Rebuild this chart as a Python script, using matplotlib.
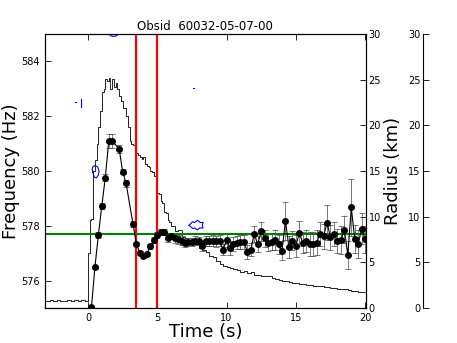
import matplotlib

matplotlib.use("Agg")
import matplotlib.pyplot as plt
import numpy as np

# light curve (scaled into frequency units), step start times and levels
lc_time = [-3.25, -3.0, -2.75, -2.5, -2.25, -2.0, -1.75, -1.5, -1.25, -1.0, -0.75, -0.5, -0.25,
           0.0, 0.125, 0.25, 0.375, 0.5, 0.625, 0.75, 0.875, 1.0, 1.125, 1.25, 1.375, 1.5,
           1.625, 1.75, 1.875, 2.0, 2.125, 2.25, 2.375, 2.5, 2.625, 2.75, 2.875, 3.0, 3.125,
           3.25, 3.375, 3.5, 3.625, 3.75, 3.875, 4.0, 4.125, 4.25, 4.375, 4.5, 4.625, 4.75,
           4.875, 5.0, 5.125, 5.25, 5.375, 5.5, 5.625, 5.75, 5.875, 6.0, 6.125, 6.25, 6.5,
           6.75, 7.0, 7.25, 7.5, 7.75, 8.0, 8.25, 8.5, 8.75, 9.0, 9.25, 9.5, 9.75, 10.0,
           10.25, 10.5, 10.75, 11.0, 11.25, 11.5, 11.75, 12.0, 12.25, 12.5, 12.75, 13.0,
           13.25, 13.5, 13.75, 14.0, 14.25, 14.5, 14.75, 15.0, 15.25, 15.5, 15.75, 16.0,
           16.25, 16.5, 16.75, 17.0, 17.25, 17.5, 17.75, 18.0, 18.25, 18.5, 18.75, 19.0,
           19.25, 19.5, 19.75, 20.0]
lc_level = [575.27, 575.25, 575.28, 575.26, 575.30, 575.27, 575.24, 575.29, 575.27, 575.31,
            575.26, 575.28, 575.27,
            577.0, 578.2, 578.25, 580.0, 580.4, 581.0, 581.6, 582.2, 582.9, 583.0, 583.35,
            583.3, 583.4, 583.0, 583.35, 583.05, 583.2, 583.0, 582.75, 582.55, 582.3, 582.3,
            582.0, 581.6, 581.1, 581.0, 580.95, 580.95, 580.65, 580.6, 580.5, 580.45, 580.5,
            580.25, 580.2, 580.15, 580.0, 579.95, 579.8, 579.7, 579.2, 579.15, 578.9, 578.85,
            578.5, 578.45, 578.2, 578.15, 578.0, 578.0, 577.8, 577.85, 577.6, 577.55, 577.45,
            577.4, 577.35, 577.2, 577.1, 577.05, 576.9, 576.85, 576.7, 576.6, 576.55, 576.5,
            576.45, 576.42, 576.38, 576.33, 576.35, 576.28, 576.3, 576.22, 576.2, 576.18,
            576.15, 576.15, 576.1, 576.05, 576.03, 576.0, 575.98, 575.95, 575.92, 575.9,
            575.88, 575.86, 575.85, 575.83, 575.82, 575.8, 575.8, 575.78, 575.75, 575.73,
            575.72, 575.7, 575.68, 575.68, 575.65, 575.63, 575.62, 575.6, 575.6, 575.58]

# burst oscillation frequency track
freq_time = [0.25, 0.5, 0.75, 1.0, 1.25, 1.5, 1.75, 2.25, 2.5, 2.75, 3.25, 3.5, 3.75, 4.0,
             4.25, 4.5, 4.75, 5.0, 5.25, 5.5, 5.75, 6.0, 6.25, 6.5, 6.75, 7.0, 7.25, 7.5,
             7.75, 8.0, 8.25, 8.5, 8.75, 9.0, 9.25, 9.5, 9.75, 10.0, 10.25, 10.5, 10.75,
             11.0, 11.25, 11.5, 11.75, 12.0, 12.25, 12.5, 12.75, 13.0, 13.25, 13.5, 13.75,
             14.0, 14.25, 14.5, 14.75, 15.0, 15.25, 15.5, 15.75, 16.0, 16.25, 16.5, 16.75,
             17.0, 17.25, 17.5, 17.75, 18.0, 18.25, 18.5, 18.75, 19.0, 19.25, 19.5, 19.75,
             20.0]
freq_val = [575.02, 576.49, 577.66, 578.73, 579.76, 581.09, 581.09, 580.81, 579.98, 579.55,
            578.06, 577.33, 577.0, 576.91, 576.97, 577.25, 577.48, 577.66, 577.78, 577.78,
            577.54, 577.63, 577.54, 577.5, 577.46, 577.36, 577.4, 577.4, 577.46, 577.44,
            577.27, 577.45, 577.45, 577.45, 577.44, 577.45, 577.12, 577.49, 577.18, 577.33,
            577.39, 577.42, 577.42, 577.05, 577.13, 577.7, 577.33, 577.8, 577.54, 577.39,
            577.42, 577.48, 577.33, 577.09, 578.18, 577.21, 577.45, 577.27, 577.73, 577.39,
            577.45, 577.33, 577.33, 577.39, 577.7, 577.61, 578.12, 577.58, 577.7, 577.45,
            577.48, 577.86, 576.93, 578.67, 577.52, 577.33, 577.9, 577.5]
freq_err = [0.0, 0.05, 0.1, 0.1, 0.12, 0.25, 0.25, 0.15, 0.1, 0.12,
            0.1, 0.08, 0.08, 0.08, 0.08, 0.08, 0.1, 0.1, 0.1, 0.1,
            0.12, 0.12, 0.15, 0.15, 0.15, 0.15, 0.15, 0.15, 0.15, 0.15,
            0.18, 0.18, 0.18, 0.2, 0.2, 0.2, 0.2, 0.25, 0.25, 0.25,
            0.25, 0.25, 0.25, 0.25, 0.25, 0.3, 0.3, 0.35, 0.3, 0.3,
            0.3, 0.35, 0.35, 0.35, 0.7, 0.4, 0.35, 0.4, 0.45, 0.4,
            0.4, 0.45, 0.45, 0.45, 0.45, 0.45, 0.65, 0.45, 0.45, 0.45,
            0.5, 0.5, 0.5, 1.05, 0.5, 0.5, 0.55, 0.5]

# blue contour fragments
contour_paths = [
    ([1.5, 1.65, 1.85, 2.05, 2.2], [585.0, 584.93, 584.91, 584.93, 585.0]),
    ([0.35, 0.3, 0.35, 0.5, 0.7, 0.8, 0.75, 0.6, 0.45, 0.35],
     [579.95, 580.05, 580.15, 580.2, 580.15, 580.0, 579.85, 579.75, 579.78, 579.95]),
    ([-0.5, -0.5], [582.35, 582.62]),
    ([-0.95, -0.85], [582.53, 582.53]),
    ([7.3, 7.55, 7.7, 7.9, 8.1, 8.3, 8.25, 8.3, 8.05, 7.9, 7.7, 7.55, 7.3],
     [578.02, 578.15, 578.12, 578.2, 578.12, 578.12, 578.02, 577.92, 577.92, 577.85,
      577.92, 577.9, 578.02]),
    ([7.6, 7.65], [583.04, 583.04]),
]

burst_marks = [3.5, 5.0]
mean_freq = 577.69

fig = plt.figure(figsize=(4.57, 3.43), dpi=100)
ax = fig.add_axes([0.0985, 0.102, 0.702, 0.799])

ax.step(lc_time, lc_level, where="post", color="black", linewidth=0.6)
ax.errorbar(freq_time, freq_val, yerr=freq_err, fmt="o-", color="black", ms=4,
            linewidth=0.8, elinewidth=0.5, ecolor="#444444", capsize=2, capthick=0.5)
for xs, ys in contour_paths:
    ax.plot(xs, ys, color="blue", linewidth=0.8)
for xm in burst_marks:
    ax.axvline(xm, color="red", linewidth=1.6)
ax.axhline(mean_freq, color="green", linewidth=1.5)

ax.set_xlim(-3.1, 20.05)
ax.set_ylim(575.0, 585.0)
ax.set_xticks([0, 5, 10, 15, 20])
ax.set_yticks([576, 578, 580, 582, 584])
ax.tick_params(direction="in", top=True, right=False, labelsize=7, length=4, width=0.6)
ax.set_xlabel("Time (s)", fontsize=13, labelpad=0)
ax.set_ylabel("Frequency (Hz)", fontsize=13)
ax.yaxis.set_label_coords(-0.078, 0.5)
ax.set_title("Obsid  60032-05-07-00", fontsize=8.5, pad=3)

ax_r = ax.twinx()
ax_r.set_ylim(0, 30)
ax_r.set_yticks(np.arange(0, 31, 5))
ax_r.tick_params(direction="in", labelsize=7, length=4, width=0.6, pad=2)
ax_r.set_ylabel("Radius (km)", fontsize=13, labelpad=2)

ax2 = fig.add_axes([0.926, 0.102, 0.05, 0.799])
ax2.patch.set_visible(False)
for side in ["right", "top", "bottom"]:
    ax2.spines[side].set_visible(False)
ax2.set_ylim(0, 30)
ax2.set_yticks(np.arange(0, 31, 5))
ax2.set_xticks([])
ax2.tick_params(axis="y", direction="in", labelsize=7, length=4, width=0.6, pad=2)

fig.savefig("out.png", dpi=100)
